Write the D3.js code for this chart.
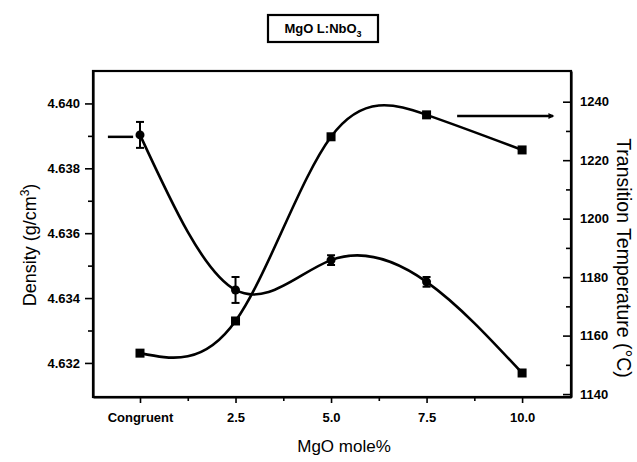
<!DOCTYPE html>
<html>
<head>
<meta charset="utf-8">
<script src="https://cdn.jsdelivr.net/npm/d3@7"></script>
<style>
  html, body { margin: 0; padding: 0; background: #fff; }
  svg { display: block; }
  text { font-family: "Liberation Sans", Arial, sans-serif; fill: #000; }
</style>
</head>
<body>
<svg id="chart" width="637" height="462"></svg>
<script>
// ---- data ----
const categories = ["Congruent", "2.5", "5.0", "7.5", "10.0"];
const xValues = [0, 2.5, 5, 7.5, 10];
const density = [4.63903, 4.63425, 4.63517, 4.63450, 4.63169];
const densityErr = [0.00040, 0.00040, 0.00015, 0.00015, 0];
const temperature = [1154, 1165, 1228, 1235.5, 1223.5];
const densityTicks = [4.632, 4.634, 4.636, 4.638, 4.640];
const densityMinor = [4.633, 4.635, 4.637, 4.639];
const tempTicks = [1140, 1160, 1180, 1200, 1220, 1240];
const tempMinor = [1150, 1170, 1190, 1210, 1230];
const xMinor = [1.25, 3.75, 6.25, 8.75];
// axis indicator pointers (data units)
const leftPointer = { x1: -0.84, x2: -0.18, y: 4.63897 };
const rightPointer = { x1: 8.3, x2: 10.81, y: 1235.1 };

// ---- layout ----
const L = 93, R = 571, T = 71, B = 397;
const svg = d3.select("#chart");

const x = d3.scaleLinear().domain([-1.23, 11.28]).range([L, R]);
const yD = d3.scaleLinear().domain([4.63095, 4.641]).range([B, T]);
const yT = d3.scaleLinear().domain([1139, 1250.5]).range([B, T]);

// frame
svg.append("rect").attr("x", L).attr("y", T).attr("width", R - L).attr("height", B - T)
  .attr("fill", "none").attr("stroke", "#000").attr("stroke-width", 2.2);

function styleAxis(g) {
  g.select(".domain").attr("stroke-width", 2.2);
  g.selectAll(".tick line").attr("stroke-width", 1.6);
  g.selectAll(".tick text").attr("font-size", 13).attr("font-weight", "bold")
    .attr("font-family", "'Liberation Sans', Arial, sans-serif");
}

// left axis
const gL = svg.append("g").attr("transform", `translate(${L},0)`)
  .call(d3.axisLeft(yD).tickValues(densityTicks).tickFormat(d3.format(".3f"))
    .tickSize(8).tickSizeOuter(0).tickPadding(5));
styleAxis(gL);
svg.append("g").attr("transform", `translate(${L},0)`)
  .call(d3.axisLeft(yD).tickValues(densityMinor).tickFormat("").tickSize(5).tickSizeOuter(0))
  .call(g => { g.select(".domain").remove(); g.selectAll("line").attr("stroke-width", 1.6); });

// right axis (ticks inward)
const gR = svg.append("g").attr("transform", `translate(${R},0)`)
  .call(d3.axisRight(yT).tickValues(tempTicks).tickFormat(d3.format("d"))
    .tickSizeInner(-8).tickSizeOuter(0).tickPadding(9));
styleAxis(gR);
svg.append("g").attr("transform", `translate(${R},0)`)
  .call(d3.axisRight(yT).tickValues(tempMinor).tickFormat("").tickSizeInner(-5).tickSizeOuter(0))
  .call(g => { g.select(".domain").remove(); g.selectAll("line").attr("stroke-width", 1.6); });

// bottom axis
const gB = svg.append("g").attr("transform", `translate(0,${B})`)
  .call(d3.axisBottom(x).tickValues(xValues).tickFormat((d, i) => categories[i])
    .tickSize(6).tickSizeOuter(0).tickPadding(10));
styleAxis(gB);
svg.append("g").attr("transform", `translate(0,${B})`)
  .call(d3.axisBottom(x).tickValues(xMinor).tickFormat("").tickSize(4).tickSizeOuter(0))
  .call(g => { g.select(".domain").remove(); g.selectAll("line").attr("stroke-width", 1.6); });

// axis titles
svg.append("text")
  .attr("transform", `translate(36,${(T + B) / 2 + 11}) rotate(-90)`)
  .attr("text-anchor", "middle").attr("font-size", 18)
  .call(t => {
    t.append("tspan").text("Density (g/cm");
    t.append("tspan").attr("dy", -7).attr("font-size", 12).text("3");
    t.append("tspan").attr("dy", 7).text(")");
  });

svg.append("text")
  .attr("transform", `translate(617,${(T + B) / 2 + 24}) rotate(90)`)
  .attr("text-anchor", "middle").attr("font-size", 19.5)
  .text("Transition Temperature (°C)");

svg.append("text")
  .attr("x", (L + R) / 2 + 12).attr("y", 452)
  .attr("text-anchor", "middle").attr("font-size", 17)
  .text("MgO mole%");

// title box
const titleG = svg.append("g");
titleG.append("rect").attr("x", 268).attr("y", 15).attr("width", 110).attr("height", 27)
  .attr("fill", "none").attr("stroke", "#000").attr("stroke-width", 2.2);
titleG.append("text").attr("x", 323).attr("y", 33).attr("text-anchor", "middle")
  .attr("font-size", 13).attr("font-weight", "bold")
  .call(t => {
    t.append("tspan").text("MgO L:NbO");
    t.append("tspan").attr("dy", 4).attr("font-size", 9).text("3");
  });

// curves
const ptsD = xValues.map((v, i) => [x(v), yD(density[i])]);
const ptsT = xValues.map((v, i) => [x(v), yT(temperature[i])]);
const line = d3.line().curve(d3.curveNatural);

svg.append("path").attr("d", line(ptsD)).attr("fill", "none")
  .attr("stroke", "#000").attr("stroke-width", 2.6);
svg.append("path").attr("d", line(ptsT)).attr("fill", "none")
  .attr("stroke", "#000").attr("stroke-width", 2.6);

// error bars
xValues.forEach((v, i) => {
  if (densityErr[i] <= 0) return;
  const cx = x(v), y1 = yD(density[i] + densityErr[i]), y2 = yD(density[i] - densityErr[i]);
  const g = svg.append("g").attr("stroke", "#000").attr("stroke-width", 2);
  g.append("line").attr("x1", cx).attr("x2", cx).attr("y1", y1).attr("y2", y2);
  g.append("line").attr("x1", cx - 4).attr("x2", cx + 4).attr("y1", y1).attr("y2", y1);
  g.append("line").attr("x1", cx - 4).attr("x2", cx + 4).attr("y1", y2).attr("y2", y2);
});

// density markers
xValues.forEach((v, i) => {
  const cx = x(v), cy = yD(density[i]);
  if (densityErr[i] > 0) {
    svg.append("circle").attr("cx", cx).attr("cy", cy).attr("r", 4.5).attr("fill", "#000");
  } else {
    svg.append("rect").attr("x", cx - 4.5).attr("y", cy - 4.5).attr("width", 9).attr("height", 9).attr("fill", "#000");
  }
});
// temperature markers
xValues.forEach((v, i) => {
  const cx = x(v), cy = yT(temperature[i]);
  svg.append("rect").attr("x", cx - 4.5).attr("y", cy - 4.5).attr("width", 9).attr("height", 9).attr("fill", "#000");
});

// axis pointers
svg.append("line").attr("x1", x(leftPointer.x1)).attr("x2", x(leftPointer.x2))
  .attr("y1", yD(leftPointer.y)).attr("y2", yD(leftPointer.y))
  .attr("stroke", "#000").attr("stroke-width", 2.5);
svg.append("line").attr("x1", x(rightPointer.x1)).attr("x2", x(rightPointer.x2))
  .attr("y1", yT(rightPointer.y)).attr("y2", yT(rightPointer.y))
  .attr("stroke", "#000").attr("stroke-width", 2.5);
svg.append("path")
  .attr("d", `M${x(rightPointer.x2) - 4},${yT(rightPointer.y) - 2} L${x(rightPointer.x2)},${yT(rightPointer.y)} L${x(rightPointer.x2) - 4},${yT(rightPointer.y) + 2} Z`)
  .attr("fill", "#000").attr("stroke", "#000").attr("stroke-width", 1.2);
</script>
</body>
</html>
